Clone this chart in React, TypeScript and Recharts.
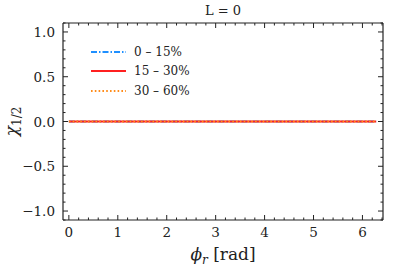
import { LineChart, Line, XAxis, YAxis } from 'recharts'

// phi_r samples (rad) and the three centrality curves, all flat at zero
const PHI = [0, 0.5, 1, 1.5, 2, 2.5, 3, 3.5, 4, 4.5, 5, 5.5, 6, 6.28]
const C0_15 = [0, 0, 0, 0, 0, 0, 0, 0, 0, 0, 0, 0, 0, 0]
const C15_30 = [0, 0, 0, 0, 0, 0, 0, 0, 0, 0, 0, 0, 0, 0]
const C30_60 = [0, 0, 0, 0, 0, 0, 0, 0, 0, 0, 0, 0, 0, 0]

const X_MAJOR = [0, 1, 2, 3, 4, 5, 6]
const Y_MAJOR = [-1.0, -0.5, 0.0, 0.5, 1.0]
const X_LABELS = ['0', '1', '2', '3', '4', '5', '6']
const Y_LABELS = ['\u22121.0', '\u22120.5', '0.0', '0.5', '1.0']

const SERIES = [
  { key: 'c1', name: '0 \u2013 15%', color: '#1e8fff', dash: '6 2 1.5 2' },
  { key: 'c2', name: '15 \u2013 30%', color: '#ff2020', dash: undefined },
  { key: 'c3', name: '30 \u2013 60%', color: '#ff8c1a', dash: '1.6 2.2' },
]

const data = PHI.map((p, i) => ({ phi: p, c1: C0_15[i], c2: C15_30[i], c3: C30_60[i] }))

// minor ticks every 0.2 on x, every 0.1 on y
const X_TICKS: number[] = []
for (let i = 0; i <= 32; i++) X_TICKS.push(+(i * 0.2).toFixed(2))
const Y_TICKS: number[] = []
for (let i = -11; i <= 11; i++) Y_TICKS.push(+(i * 0.1).toFixed(2))

const FONT = "'DejaVu Serif', 'Liberation Serif', serif"
const INK = '#222'

const isMajorX = (v: number) => X_MAJOR.some((m) => Math.abs(m - v) < 1e-6)
const isMajorY = (v: number) => Y_MAJOR.some((m) => Math.abs(m - v) < 1e-6)

function XTick(props: any) {
  const { x, y, payload, side } = props
  const v = payload.value
  const major = isMajorX(v)
  const len = major ? 5 : 2.5
  const dir = side === 'top' ? 1 : -1
  const idx = X_MAJOR.findIndex((m) => Math.abs(m - v) < 1e-6)
  return (
    <g>
      <line x1={x} x2={x} y1={y} y2={y + dir * len} stroke={INK} strokeWidth={1} />
      {side === 'bottom' && major && (
        <text x={x} y={y + 17} textAnchor="middle" fontSize={13.5} fontFamily={FONT} fill={INK}>
          {X_LABELS[idx]}
        </text>
      )}
    </g>
  )
}

function YTick(props: any) {
  const { x, y, payload, side } = props
  const v = payload.value
  const major = isMajorY(v)
  const len = major ? 5 : 2.5
  const dir = side === 'left' ? 1 : -1
  const idx = Y_MAJOR.findIndex((m) => Math.abs(m - v) < 1e-6)
  return (
    <g>
      <line x1={x} x2={x + dir * len} y1={y} y2={y} stroke={INK} strokeWidth={1} />
      {side === 'left' && major && (
        <text x={x - 8} y={y + 5} textAnchor="end" fontSize={13.5} fontFamily={FONT} fill={INK}>
          {Y_LABELS[idx]}
        </text>
      )}
    </g>
  )
}

function LegendBox() {
  return (
    <div style={{ position: 'absolute', left: 91, top: 42, fontFamily: FONT, fontSize: 12, color: INK }}>
      {SERIES.map((s) => (
        <div key={s.key} style={{ display: 'flex', alignItems: 'center', height: 19.5 }}>
          <svg width={36} height={6} style={{ marginRight: 7 }}>
            <line x1={0} x2={35} y1={3} y2={3} stroke={s.color} strokeWidth={2} strokeDasharray={s.dash} />
          </svg>
          <span>{s.name}</span>
        </div>
      ))}
    </div>
  )
}

export default function App() {
  return (
    <div style={{ position: 'absolute', left: 0, top: 0, width: 407, height: 268, background: '#fff' }}>
      <LineChart width={407} height={268} data={data} margin={{ top: 0, right: 0, bottom: 0, left: 0 }}>
        <XAxis
          xAxisId="b"
          dataKey="phi"
          type="number"
          domain={[-0.12, 6.42]}
          allowDataOverflow
          ticks={X_TICKS}
          interval={0}
          height={48}
          tickSize={0}
          tickMargin={0}
          tickLine={false}
          axisLine={{ stroke: INK, strokeWidth: 1.2 }}
          tick={<XTick side="bottom" />}
          label={({ viewBox }: any) => (
            <text
              x={viewBox.x + viewBox.width / 2}
              y={viewBox.y + 40}
              textAnchor="middle"
              fontFamily={FONT}
              fontSize={17}
              fill={INK}
            >
              <tspan fontStyle="italic">{'\u03d5'}</tspan>
              <tspan fontStyle="italic" fontSize={12} dy={4}>r</tspan>
              <tspan dy={-4}>{' [rad]'}</tspan>
            </text>
          )}
        />
        <XAxis
          xAxisId="t"
          dataKey="phi"
          type="number"
          orientation="top"
          domain={[-0.12, 6.42]}
          allowDataOverflow
          ticks={X_TICKS}
          interval={0}
          height={23}
          tickSize={0}
          tickMargin={0}
          tickLine={false}
          axisLine={{ stroke: INK, strokeWidth: 1.2 }}
          tick={<XTick side="top" />}
          label={({ viewBox }: any) => (
            <text
              x={viewBox.x + viewBox.width / 2}
              y={15}
              textAnchor="middle"
              fontFamily={FONT}
              fontSize={13}
              fill={INK}
            >
              L = 0
            </text>
          )}
        />
        <YAxis
          yAxisId="l"
          type="number"
          domain={[-1.1, 1.1]}
          allowDataOverflow
          ticks={Y_TICKS}
          interval={0}
          width={63}
          tickSize={0}
          tickMargin={0}
          tickLine={false}
          axisLine={{ stroke: INK, strokeWidth: 1.2 }}
          tick={<YTick side="left" />}
          label={({ viewBox }: any) => {
            const cx = 17
            const cy = viewBox.y + viewBox.height / 2
            return (
              <text
                x={cx}
                y={cy}
                transform={`rotate(-90 ${cx} ${cy})`}
                textAnchor="middle"
                fontFamily={FONT}
                fontSize={17}
                fill={INK}
              >
                <tspan fontStyle="italic">{'\u03c7'}</tspan>
                <tspan fontSize={12} dy={4}>1/2</tspan>
              </text>
            )
          }}
        />
        <YAxis
          yAxisId="r"
          type="number"
          orientation="right"
          domain={[-1.1, 1.1]}
          allowDataOverflow
          ticks={Y_TICKS}
          interval={0}
          width={24}
          tickSize={0}
          tickMargin={0}
          tickLine={false}
          axisLine={{ stroke: INK, strokeWidth: 1.2 }}
          tick={<YTick side="right" />}
        />
        {SERIES.map((s) => (
          <Line
            key={s.key}
            xAxisId="b"
            yAxisId="l"
            dataKey={s.key}
            name={s.name}
            stroke={s.color}
            strokeWidth={2}
            strokeDasharray={s.dash}
            dot={false}
            isAnimationActive={false}
          />
        ))}
      </LineChart>
      <LegendBox />
    </div>
  )
}
